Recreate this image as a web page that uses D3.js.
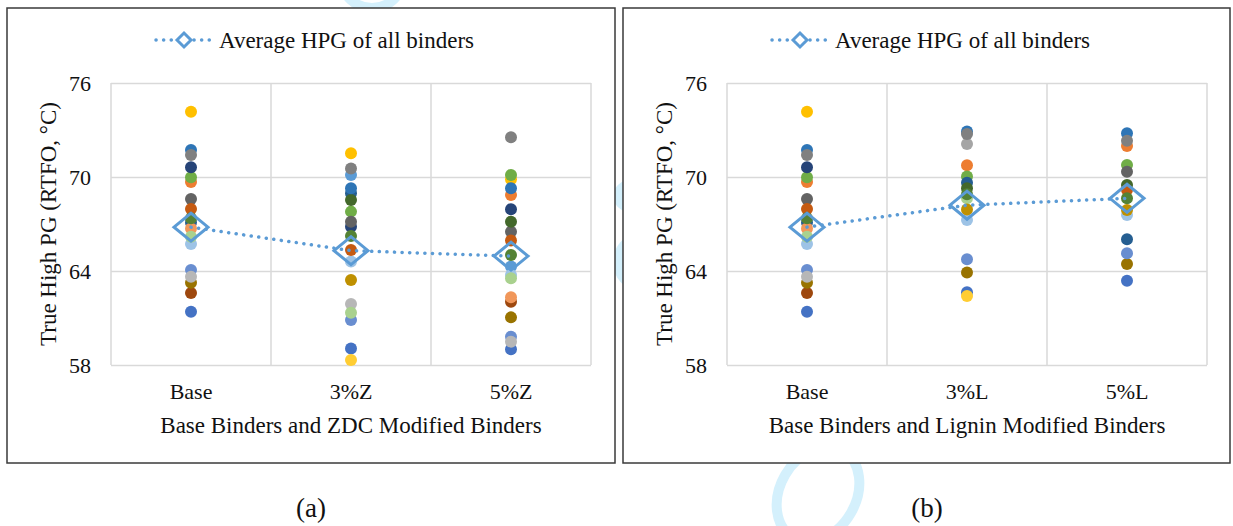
<!DOCTYPE html>
<html>
<head>
<meta charset="utf-8">
<script src="https://cdn.jsdelivr.net/npm/d3@7"></script>
<style>
  body { margin: 0; background: #fff; }
  svg { display: block; font-family: "Liberation Serif", "Times New Roman", serif; }
  .tick text { fill: #111; }
</style>
</head>
<body>
<div id="chart"></div>
<script>
// True High PG of each binder (RTFO, °C), one slot per binder, null = no point
const baseHPG = [61.4, 69.68, null, 74.17, null, 69.98, 70.62, 62.6, 68.6, 63.25, 67.1, null,
                 64.06, 66.72, 63.64, null, 65.72, 66.19, 71.72, 67.96, 71.4, 67.36, null];
const zdc3HPG = [59.06, null, null, 71.51, 70.13, 67.79, 66.83, null, 67.15, null, 68.96, 68.53,
                 60.87, null, 61.9, 58.32, 64.6, 61.34, 69.28, 65.34, 70.55, 66.23, 63.43];
const zdc5HPG = [59.0, 68.85, null, 69.85, 64.28, 70.13, 67.94, 62.04, 66.51, 61.04, null, 67.15,
                 59.81, 62.32, 59.49, null, 63.74, 63.53, 69.28, 65.94, 72.53, 65.02, null];
const lig3HPG = [62.64, 70.75, 72.1, null, null, 70.03, null, null, null, 63.9, 69.64, 69.28,
                 64.75, null, null, 62.4, 67.26, 68.64, 72.9, null, 72.75, 68.9, 67.93];
const lig5HPG = [63.38, 71.98, null, null, null, 70.77, null, null, 70.34, 64.45, 66.02, 69.49,
                 65.13, null, null, null, 67.57, null, 72.79, 69.17, 72.32, 68.64, 67.9];

// average HPG of all binders
const avgZdc = [66.8, 65.3, 64.95];
const avgLig = [66.8, 68.2, 68.64];

const zdcCats = ["Base", "3%Z", "5%Z"];
const ligCats = ["Base", "3%L", "5%L"];
const yTicks = [58, 64, 70, 76];

const binderColors = ["#4472C4", "#ED7D31", "#A5A5A5", "#FFC000", "#5B9BD5", "#70AD47", "#264478",
  "#9E480E", "#636363", "#997300", "#255E91", "#43682B", "#698ED0", "#F1975A", "#B7B7B7",
  "#FFCD33", "#9DC3E6", "#A9D18E", "#2E75B6", "#C55A11", "#808080", "#548235", "#BF9000"];

const width = 1233, height = 526;
const svg = d3.select("#chart").append("svg")
  .attr("width", width).attr("height", height);

// faint watermark behind the panels
const wm = svg.append("g").attr("fill", "none").attr("stroke", "#d4f0fc").attr("stroke-width", 10);
wm.append("ellipse").attr("cx", 818).attr("cy", 494).attr("rx", 38).attr("ry", 50)
  .attr("transform", "rotate(30 818 494)");
wm.append("ellipse").attr("cx", 640).attr("cy", 196).attr("rx", 22).attr("ry", 14);
wm.append("ellipse").attr("cx", 640).attr("cy", 262).attr("rx", 22).attr("ry", 24);
wm.append("ellipse").attr("cx", 372).attr("cy", -20).attr("rx", 30).attr("ry", 28);

function drawPanel(ox, frameW, cats, series, avg, xTitle, caption) {
  const g = svg.append("g").attr("transform", `translate(${ox},0)`);

  g.append("rect").attr("x", 7).attr("y", 8).attr("width", frameW).attr("height", 455)
    .attr("fill", "#fff").attr("stroke", "#3a3a3a").attr("stroke-width", 1.5);

  const x = d3.scaleBand().domain(cats).range([111, 591]);
  const y = d3.scaleLinear().domain([58, 76]).range([365, 83]);
  const cx = c => x(c) + x.bandwidth() / 2;

  // horizontal gridlines + y labels
  g.append("g").attr("transform", "translate(111,0)")
    .call(d3.axisLeft(y).tickValues(yTicks).tickSize(-480).tickPadding(20).tickFormat(d3.format("d")))
    .call(a => a.select(".domain").remove())
    .call(a => a.selectAll("line").attr("stroke", "#d9d9d9").attr("stroke-width", 1.5))
    .call(a => a.selectAll("text").attr("font-size", 22).attr("font-family", "Liberation Serif"));

  // vertical gridlines at category edges
  const edges = cats.map(c => x(c)).concat([x.range()[1]]);
  g.selectAll(".vgrid").data(edges).enter().append("line")
    .attr("x1", d => d).attr("x2", d => d).attr("y1", y(76)).attr("y2", y(58))
    .attr("stroke", "#d9d9d9").attr("stroke-width", 1.5);

  // category labels
  g.append("g").attr("transform", `translate(0,${y(58)})`)
    .call(d3.axisBottom(x).tickSize(0).tickPadding(18))
    .call(a => a.select(".domain").remove())
    .call(a => a.selectAll("text").attr("font-size", 22).attr("font-family", "Liberation Serif"));

  // binder points, one series per binder
  binderColors.forEach((col, b) => {
    cats.forEach((c, i) => {
      const v = series[i][b];
      if (v === null) return;
      g.append("circle").attr("cx", cx(c)).attr("cy", y(v)).attr("r", 6).attr("fill", col);
    });
  });

  // average line + diamonds
  const pts = cats.map((c, i) => [cx(c), y(avg[i])]);
  g.append("path").attr("d", d3.line()(pts)).attr("fill", "none")
    .attr("stroke", "#5B9BD5").attr("stroke-width", 3.5)
    .attr("stroke-linecap", "round").attr("stroke-dasharray", "0.1 7.5");
  const diamond = (px, py, w, h) => `M${px - w},${py}L${px},${py - h}L${px + w},${py}L${px},${py + h}Z`;
  g.selectAll(".avg").data(pts).enter().append("path")
    .attr("d", d => diamond(d[0], d[1], 17, 14))
    .attr("fill", "none").attr("stroke", "#5B9BD5").attr("stroke-width", 3);

  // legend
  const lg = g.append("g");
  lg.append("line").attr("x1", 156).attr("x2", 213).attr("y1", 40).attr("y2", 40)
    .attr("stroke", "#5B9BD5").attr("stroke-width", 3.5)
    .attr("stroke-linecap", "round").attr("stroke-dasharray", "0.1 7.5");
  lg.append("rect").attr("x", 177).attr("y", 34).attr("width", 12).attr("height", 12)
    .attr("fill", "#fff");
  lg.append("path").attr("d", diamond(184, 40, 7, 7))
    .attr("fill", "none").attr("stroke", "#5B9BD5").attr("stroke-width", 3);
  lg.append("text").attr("x", 219).attr("y", 40).attr("dominant-baseline", "central")
    .attr("font-size", 23).attr("fill", "#111").text("Average HPG of all binders");

  // axis titles
  g.append("text").attr("transform", `translate(48,${(y(58) + y(76)) / 2}) rotate(-90)`)
    .attr("text-anchor", "middle").attr("dominant-baseline", "central")
    .attr("font-size", 23).attr("fill", "#111").text("True High PG (RTFO, °C)");
  g.append("text").attr("x", 351).attr("y", 425).attr("text-anchor", "middle")
    .attr("dominant-baseline", "central").attr("font-size", 23).attr("fill", "#111").text(xTitle);

  // caption below the frame
  g.append("text").attr("x", 311).attr("y", 508).attr("text-anchor", "middle")
    .attr("dominant-baseline", "central").attr("font-size", 27).attr("fill", "#111").text(caption);
}

drawPanel(0, 608, zdcCats, [baseHPG, zdc3HPG, zdc5HPG], avgZdc,
  "Base Binders and ZDC Modified Binders", "(a)");
drawPanel(616, 607, ligCats, [baseHPG, lig3HPG, lig5HPG], avgLig,
  "Base Binders and Lignin Modified Binders", "(b)");
</script>
</body>
</html>
